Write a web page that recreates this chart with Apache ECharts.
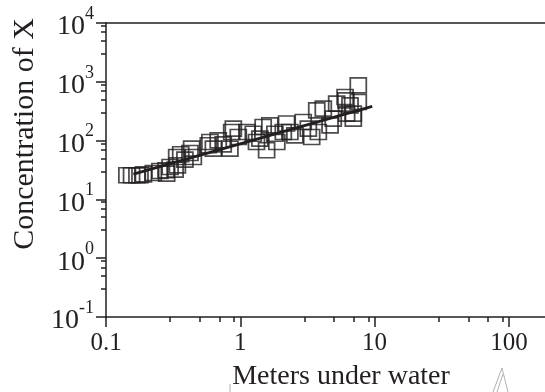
<!DOCTYPE html>
<html><head><meta charset="utf-8">
<script src="https://cdn.jsdelivr.net/npm/echarts@6/dist/echarts.min.js"></script>
<style>html,body{margin:0;padding:0;background:#fff}#c{width:545px;height:392px}</style>
</head><body><div id="c"></div>
<script>
// Scatter data (meters under water vs concentration of X)
const depth = [0.143,0.155,0.170,0.179,0.190,0.225,0.252,0.280,0.283,0.300,0.327,0.340,0.336,0.360,0.387,0.422,0.434,0.447,
  0.578,0.594,0.630,0.685,0.746,0.837,0.863,0.887,0.966,1.12,1.25,1.32,1.40,1.48,1.57,1.66,1.81,1.87,2.09,2.21,2.34,2.55,
  2.94,3.21,3.40,3.71,3.81,4.15,4.66,4.92,5.22,6.03,6.12,6.19,6.56,6.94,6.94,7.56,7.56];
const conc = [25.7,25.7,25.7,25.7,26.7,28.1,30.4,31.3,27.5,35.6,32.1,38.0,52.6,58.5,47.5,61.5,73.1,52.6,
  83.2,94.6,73.1,101,86.5,73.1,140,160,115,140,131,94.6,108,170,68.4,182,131,94.6,140,195,140,123,
  207,160,115,327,140,350,182,237,426,551,484,288,398,288,237,453,871];
// Fitted power-law line end points
const fitX = [0.16, 9.6];
const fitY = [27, 383];
// Axis ticks
const xMajor = [0.1, 1, 10, 100];
const xMinor = [0.3,0.5,0.7,0.9,3,5,7,9,30,50,70,90];
const yMajor = [0.1, 1, 10, 100, 1000, 10000];
const yMinor = [0.3,0.5,0.7,0.9,3,5,7,9,30,50,70,90,300,500,700,900,3000,5000,7000,9000];
const xTickLabels = ['0.1', '1', '10', '100'];
const yTickExp = ['-1', '0', '1', '2', '3', '4'];
const xTitle = 'Meters under water';
const yTitle = 'Concentration of X';
const xMin = 0.1, xMax = 185.7, yMin = 0.1, yMax = 10000;

const INK = '#231f20';
const FONT = '"Liberation Serif", "Times New Roman", serif';

const chart = echarts.init(document.getElementById('c'), null, {renderer: 'canvas'});
const axisCommon = {type: 'log', logBase: 10, splitLine: {show: false}};
const option = {
  animation: false,
  grid: {left: 106, top: 23, right: 0, bottom: 75, show: false, containLabel: false},
  xAxis: [
    Object.assign({}, axisCommon, {
      min: xMin, max: xMax, position: 'bottom',
      axisLine: {show: true, lineStyle: {color: INK, width: 1.5}},
      axisTick: {show: true, customValues: xMajor, length: 10, lineStyle: {color: INK, width: 1.5}},
      axisLabel: {customValues: xMajor, margin: 14, color: INK, fontFamily: FONT, fontSize: 25,
        formatter: v => xTickLabels[xMajor.findIndex(m => Math.abs(m - v) / m < 1e-6)] || ''}
    }),
    Object.assign({}, axisCommon, {
      min: xMin, max: xMax, position: 'bottom',
      axisLine: {show: false},
      axisTick: {show: true, customValues: xMinor, length: 5, lineStyle: {color: INK, width: 1.5}},
      axisLabel: {show: false}
    }),
    Object.assign({}, axisCommon, {
      min: xMin, max: xMax, position: 'top',
      axisLine: {show: true, lineStyle: {color: INK, width: 1.5}},
      axisTick: {show: false}, axisLabel: {show: false}
    })
  ],
  yAxis: [
    Object.assign({}, axisCommon, {
      min: yMin, max: yMax, position: 'left',
      axisLine: {show: true, lineStyle: {color: INK, width: 1.5}},
      axisTick: {show: true, customValues: yMajor, length: 10, lineStyle: {color: INK, width: 1.5}},
      axisLabel: {customValues: yMajor, margin: 12, color: INK,
        formatter: v => {
          const i = yMajor.findIndex(m => Math.abs(m - v) / m < 1e-6);
          return '{b|10}{s|' + (yTickExp[i] !== undefined ? yTickExp[i] : '') + '}';
        },
        rich: {
          b: {fontFamily: FONT, fontSize: 28, color: INK, padding: [8, 0, 0, 0]},
          s: {fontFamily: FONT, fontSize: 18, color: INK, verticalAlign: 'top'}
        }
      }
    }),
    Object.assign({}, axisCommon, {
      min: yMin, max: yMax, position: 'left',
      axisLine: {show: false},
      axisTick: {show: true, customValues: yMinor, length: 5, lineStyle: {color: INK, width: 1.5}},
      axisLabel: {show: false}
    })
  ],
  series: [
    {
      type: 'scatter', xAxisIndex: 0, yAxisIndex: 0,
      data: depth.map((d, i) => [d, conc[i]]),
      symbol: 'rect', symbolSize: [16, 15],
      itemStyle: {color: 'rgba(255,255,255,0)', borderColor: INK, borderWidth: 1.7},
      z: 2
    },
    {
      type: 'line', xAxisIndex: 0, yAxisIndex: 0,
      data: fitX.map((x, i) => [x, fitY[i]]),
      showSymbol: false, symbol: 'none',
      lineStyle: {color: INK, width: 2.8},
      z: 3
    }
  ],
  graphic: [
    {type: 'text', x: 341, y: 377, style: {text: xTitle, font: '28px ' + FONT, fill: INK, align: 'center', verticalAlign: 'middle'}},
    {type: 'text', x: 25, y: 134, rotation: Math.PI / 2, style: {text: yTitle, font: '30px ' + FONT, fill: INK, align: 'center', verticalAlign: 'middle'}},
    {type: 'polyline', shape: {points: [[230, 384], [230, 392]]}, style: {stroke: '#b0b0b0', lineWidth: 1}},
    {type: 'polyline', shape: {points: [[493, 392], [502, 368], [508, 392]]}, style: {stroke: '#b0b0b0', lineWidth: 1, fill: null}},
    {type: 'polyline', shape: {points: [[497, 392], [503, 374]]}, style: {stroke: '#b0b0b0', lineWidth: 1, fill: null}}
  ]
};
chart.setOption(option);
</script>
</body></html>
